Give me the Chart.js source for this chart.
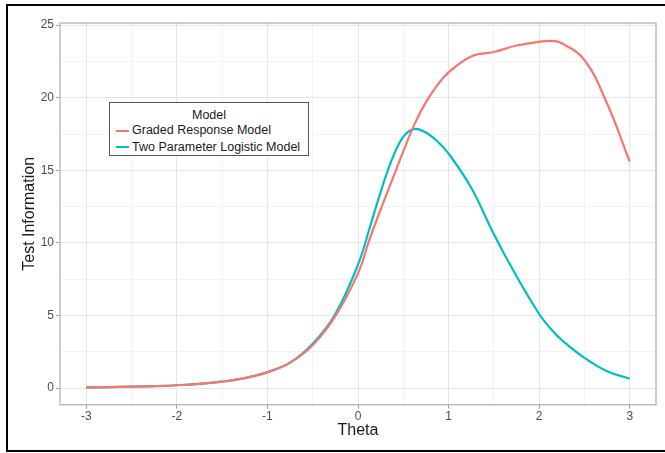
<!DOCTYPE html>
<html>
<head>
<meta charset="utf-8">
<script src="https://cdn.jsdelivr.net/npm/chart.js@4.4.1/dist/chart.umd.min.js"></script>
<style>
  html, body { margin: 0; padding: 0; background: #fff; overflow: hidden; }
  #wrap { position: relative; width: 665px; height: 453px; }
  #c { position: absolute; left: 0; top: 0; }
  #frame { position: absolute; left: 6px; top: 4px; width: 700px; height: 444px; border: 2px solid #000; pointer-events: none; box-sizing: content-box; }
  #legend { position: absolute; left: 109px; top: 102px; width: 198px; height: 52px; border: 1.5px solid #555; background: #fff;
            font-family: "Liberation Sans", Arial, Helvetica, sans-serif; color: #1a1a1a; }
  #legend .ttl { text-align: center; font-size: 12.5px; line-height: 14px; margin-top: 5px; }
  #legend .row { position: relative; height: 16.5px; font-size: 12.5px; line-height: 16.5px; padding-left: 22px; white-space: nowrap; }
  #legend .sw { position: absolute; left: 6px; top: 7.5px; width: 13px; height: 2px; }
</style>
</head>
<body>
<div id="wrap">
  <canvas id="c" width="665" height="453"></canvas>
  <div id="legend"></div>
  <div id="frame"></div>
</div>
<script>
// ---- data ----
const theta = [-3, -2.75, -2.5, -2.25, -2, -1.75, -1.5, -1.25, -1, -0.75, -0.5, -0.25, 0, 0.125, 0.25, 0.375, 0.5, 0.625, 0.75, 0.875, 1, 1.25, 1.5, 1.75, 2, 2.125, 2.25, 2.5, 2.75, 3];
const gradedResponse = [0.04, 0.06, 0.09, 0.13, 0.19, 0.29, 0.44, 0.68, 1.08, 1.75, 2.95, 4.95, 7.9, 10.2, 12.3, 14.3, 16.3, 18.2, 19.7, 20.85, 21.75, 22.85, 23.15, 23.6, 23.85, 23.92, 23.75, 22.6, 19.6, 15.6];
const twoParamLogistic = [0.04, 0.06, 0.09, 0.13, 0.19, 0.29, 0.44, 0.68, 1.1, 1.75, 3.05, 5.1, 8.5, 10.95, 13.5, 15.75, 17.3, 17.85, 17.6, 17.0, 16.15, 13.8, 10.6, 7.7, 5.1, 4.1, 3.3, 2.08, 1.16, 0.64];
const seriesNames = ["Graded Response Model", "Two Parameter Logistic Model"];
const legendTitle = "Model";
const xTitle = "Theta";
const yTitle = "Test Information";
const xTicks = [-3, -2.5, -2, -1.5, -1, -0.5, 0, 0.5, 1, 1.5, 2, 2.5, 3];
const yTicks = [0, 2.5, 5, 7.5, 10, 12.5, 15, 17.5, 20, 22.5, 25];

const colors = ["#F8766D", "#00BFC4"];
const FONT = '"Liberation Sans", Arial, Helvetica, sans-serif';

const toPts = (ys) => theta.map((t, i) => ({ x: t, y: ys[i] }));

const isMajorX = v => Math.abs(v - Math.round(v)) < 1e-9;
const isMajorY = v => Math.abs(v / 5 - Math.round(v / 5)) < 1e-9;

const panelBorder = {
  id: 'panelBorder',
  afterDatasetsDraw(chart) {
    const a = chart.chartArea, ctx = chart.ctx;
    ctx.save();
    ctx.strokeStyle = '#b3b3b3';
    ctx.lineWidth = 1.3;
    ctx.strokeRect(a.left, a.top, a.right - a.left, a.bottom - a.top);
    ctx.restore();
  }
};

const lineStyle = { borderWidth: 2.2, pointRadius: 0, tension: 0.4, cubicInterpolationMode: 'default', fill: false };

const chart = new Chart(document.getElementById('c'), {
  type: 'line',
  data: {
    datasets: [
      Object.assign({ label: seriesNames[0], data: toPts(gradedResponse), borderColor: colors[0], backgroundColor: colors[0] }, lineStyle),
      Object.assign({ label: seriesNames[1], data: toPts(twoParamLogistic), borderColor: colors[1], backgroundColor: colors[1] }, lineStyle)
    ]
  },
  options: {
    responsive: false,
    animation: false,
    events: [],
    layout: { padding: { left: 0, top: 23, right: 9, bottom: 0 } },
    plugins: { legend: { display: false }, tooltip: { enabled: false } },
    scales: {
      x: {
        type: 'linear',
        min: -3.29, max: 3.29,
        afterBuildTicks: s => { s.ticks = xTicks.map(v => ({ value: v })); },
        afterFit: s => { s.height = 48.3; },
        ticks: {
          autoSkip: false, maxRotation: 0, padding: 1,
          color: '#4d4d4d', font: { family: FONT, size: 12 },
          callback: v => isMajorX(v) ? String(v) : ''
        },
        grid: {
          drawTicks: true, tickLength: 4,
          color: c => (c.tick && isMajorX(c.tick.value)) ? '#e6e6e6' : '#f3f3f3',
          lineWidth: 1,
          tickColor: c => (c.tick && isMajorX(c.tick.value)) ? '#a0a0a0' : 'rgba(0,0,0,0)'
        },
        border: { display: false },
        title: { display: true, text: xTitle, color: '#1a1a1a', font: { family: FONT, size: 16 }, padding: { top: 0, bottom: 12.4 } }
      },
      y: {
        type: 'linear',
        min: -1.15, max: 25.15,
        afterBuildTicks: s => { s.ticks = yTicks.map(v => ({ value: v })); },
        afterFit: s => { s.width = 60; },
        ticks: {
          autoSkip: false, padding: 2,
          color: '#4d4d4d', font: { family: FONT, size: 12 },
          callback: v => isMajorY(v) ? String(v) : ''
        },
        grid: {
          drawTicks: true, tickLength: 4,
          color: c => (c.tick && isMajorY(c.tick.value)) ? '#e6e6e6' : '#f3f3f3',
          lineWidth: 1,
          tickColor: c => (c.tick && isMajorY(c.tick.value)) ? '#a0a0a0' : 'rgba(0,0,0,0)'
        },
        border: { display: false },
        title: { display: true, text: yTitle, color: '#1a1a1a', font: { family: FONT, size: 16 }, padding: { top: 20.4, bottom: 0 } }
      }
    }
  },
  plugins: [panelBorder]
});

// HTML legend built from the datasets
const lg = document.getElementById('legend');
const t = document.createElement('div'); t.className = 'ttl'; t.textContent = legendTitle; lg.appendChild(t);
chart.data.datasets.forEach(ds => {
  const r = document.createElement('div'); r.className = 'row';
  const sw = document.createElement('span'); sw.className = 'sw'; sw.style.background = ds.borderColor;
  r.appendChild(sw);
  r.appendChild(document.createTextNode(ds.label));
  lg.appendChild(r);
});
</script>
</body>
</html>
